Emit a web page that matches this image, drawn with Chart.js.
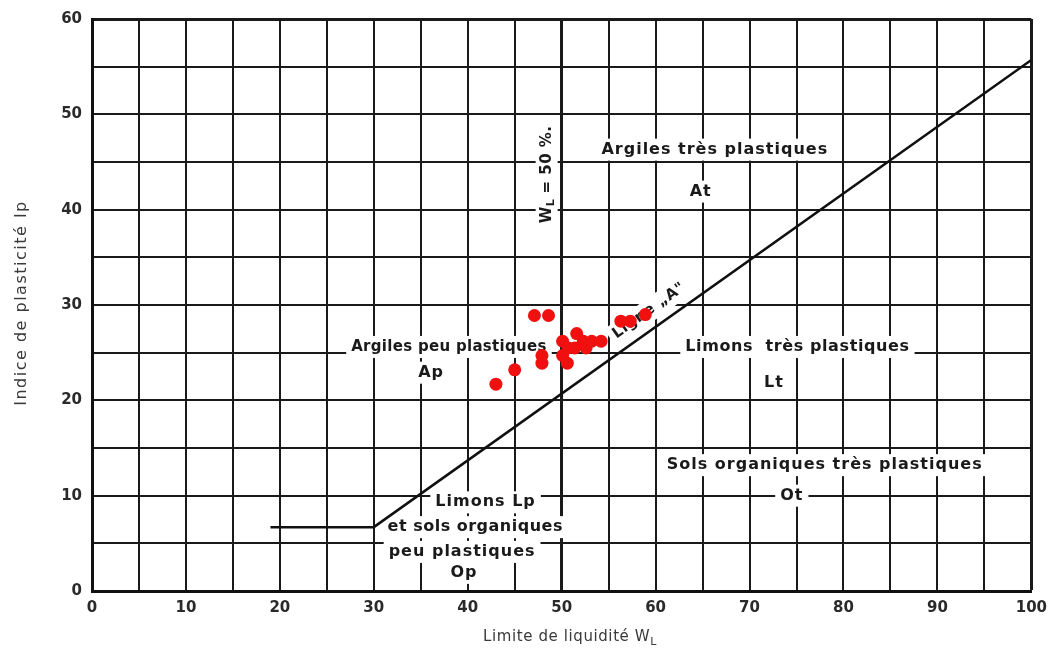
<!DOCTYPE html>
<html>
<head>
<meta charset="utf-8">
<script src="https://cdn.jsdelivr.net/npm/chart.js@4.4.1/dist/chart.umd.min.js"></script>
<style>
  html, body { margin: 0; padding: 0; background: #fff; }
</style>
</head>
<body>
<canvas id="chart" width="1055" height="657"></canvas>
<script>
// sample points (liquid limit WL, plasticity index Ip)
const wlSamples = [43.0, 45.0, 47.1, 48.6, 47.9, 47.9, 50.1, 50.1, 50.6, 51.6, 51.4, 50.7, 52.6, 52.3, 53.2, 54.2, 56.3, 57.3, 58.9];
const ipSamples = [21.7, 23.2, 28.9, 28.9, 24.7, 23.9, 26.2, 24.7, 23.9, 27.0, 25.5, 25.5, 25.5, 26.2, 26.2, 26.2, 28.3, 28.3, 29.0];

// "Ligne A" of the Casagrande chart
const aLineWL = [19, 30, 100];
const aLineIp = [6.7, 6.7, 55.7];

// axes
const xRange = [0, 100];
const yRange = [0, 60];
const gridStep = 5;
const labelStep = 10;

const samplePoints = wlSamples.map((w, i) => ({ x: w, y: ipSamples[i] }));
const aLinePoints = aLineWL.map((w, i) => ({ x: w, y: aLineIp[i] }));

// zone labels, anchored in data units
const zoneLabels = [
    { parts: ['Argiles très plastiques'], x: 66.3, y: 46.3 },
    { parts: ['At'], x: 64.8, y: 41.9 },
    { parts: ['Argiles peu plastiques'], x: 38.0, y: 25.6, size: 15, sp: 0.3 },
    { parts: ['Ap'], x: 36.1, y: 22.9 },
    { parts: ['Limons  très plastiques'], x: 75.1, y: 25.6, sp: 0.6 },
    { parts: ['Lt'], x: 72.6, y: 21.8 },
    { parts: ['Sols organiques très plastiques'], x: 78.0, y: 13.2 },
    { parts: ['Ot'], x: 74.5, y: 10.0 },
    { parts: ['Limons Lp'], x: 41.9, y: 9.3 },
    { parts: ['et sols organiques'], x: 40.8, y: 6.7, sp: 0.5 },
    { parts: ['peu plastiques'], x: 39.4, y: 4.1 },
    { parts: ['Op'], x: 39.6, y: 1.9 },
    { parts: ['W', { sub: 'L' }, ' = 50 %.'], x: 48.4, y: 43.7, rot: -Math.PI / 2, size: 15, sp: 0.5 },
    { parts: ['Ligne „A"'], x: 59.3, y: 29.4, rot: -0.62, size: 15, sp: 0.5 }
];

const FONT = '"DejaVu Sans", sans-serif';

function setFont(ctx, size, sp) {
    ctx.font = 'bold ' + size + 'px ' + FONT;
    ctx.letterSpacing = sp + 'px';
}

function partsWidth(ctx, parts, size, sp) {
    let w = 0;
    parts.forEach(p => {
        if (typeof p === 'string') { setFont(ctx, size, sp); w += ctx.measureText(p).width; }
        else { setFont(ctx, Math.round(size * 0.7), 0); w += ctx.measureText(p.sub).width; }
    });
    return w;
}

function drawParts(ctx, parts, size, sp, x0) {
    let x = x0;
    parts.forEach(p => {
        if (typeof p === 'string') {
            setFont(ctx, size, sp);
            ctx.fillText(p, x, 0);
            x += ctx.measureText(p).width;
        } else {
            setFont(ctx, Math.round(size * 0.7), 0);
            ctx.fillText(p.sub, x, size * 0.3);
            x += ctx.measureText(p.sub).width;
        }
    });
}

const zonePlugin = {
    id: 'zones',
    beforeDatasetsDraw(chart) {
        const ctx = chart.ctx;
        const xs = chart.scales.x, ys = chart.scales.y;
        ctx.save();
        ctx.textBaseline = 'middle';
        ctx.textAlign = 'left';
        zoneLabels.forEach(l => {
            const size = l.size || 16;
            const sp = l.sp !== undefined ? l.sp : 1;
            const px = xs.getPixelForValue(l.x);
            const py = ys.getPixelForValue(l.y);
            const w = partsWidth(ctx, l.parts, size, sp);
            ctx.save();
            ctx.translate(px, py);
            if (l.rot) ctx.rotate(l.rot);
            ctx.fillStyle = '#fff';
            ctx.fillRect(-w / 2 - 5, -11, w + 10, 22);
            ctx.fillStyle = '#1a1a1a';
            drawParts(ctx, l.parts, size, sp, -w / 2);
            ctx.restore();
        });
        ctx.restore();
    },
    afterDraw(chart) {
        // axis titles
        const ctx = chart.ctx;
        ctx.save();
        ctx.fillStyle = '#3a3a3a';
        ctx.textBaseline = 'middle';
        ctx.textAlign = 'center';
        ctx.font = '16px ' + FONT;
        ctx.letterSpacing = '1.5px';
        ctx.translate(22, 303);
        ctx.rotate(-Math.PI / 2);
        ctx.fillText('Indice de plasticité Ip', 0, 0);
        ctx.restore();

        ctx.save();
        ctx.fillStyle = '#3a3a3a';
        ctx.textBaseline = 'middle';
        ctx.textAlign = 'left';
        ctx.font = '15px ' + FONT;
        ctx.letterSpacing = '0.6px';
        const main = 'Limite de liquidité W';
        const mw = ctx.measureText(main).width;
        ctx.font = '11px ' + FONT;
        const sw = ctx.measureText('L').width;
        const x0 = 570 - (mw + sw) / 2;
        ctx.font = '15px ' + FONT;
        ctx.fillText(main, x0, 637);
        ctx.font = '11px ' + FONT;
        ctx.fillText('L', x0 + mw, 642);
        ctx.restore();
    }
};

const chart = new Chart(document.getElementById('chart').getContext('2d'), {
    type: 'scatter',
    data: {
        datasets: [
            {
                label: 'Ligne A',
                type: 'line',
                data: aLinePoints,
                borderColor: '#111',
                borderWidth: 2.5,
                pointRadius: 0,
                fill: false,
                order: 2
            },
            {
                label: 'Echantillons',
                data: samplePoints,
                backgroundColor: '#f01010',
                borderWidth: 0,
                pointRadius: 6.5,
                order: 1
            }
        ]
    },
    options: {
        responsive: false,
        animation: false,
        layout: { padding: { left: 0, right: 20, top: 16, bottom: 0 } },
        plugins: { legend: { display: false }, tooltip: { enabled: false } },
        scales: {
            x: {
                type: 'linear',
                min: xRange[0], max: xRange[1],
                afterFit: s => { s.height = 66; },
                border: { display: true, color: '#111', width: 3 },
                grid: {
                    color: '#1a1a1a',
                    lineWidth: c => (c.tick && (c.tick.value === 50 || c.tick.value === 100)) ? 3 : 2,
                    drawTicks: false
                },
                ticks: {
                    stepSize: gridStep,
                    padding: 8,
                    color: '#2a2a2a',
                    font: { family: FONT, size: 15, weight: 'bold' },
                    maxRotation: 0,
                    autoSkip: false,
                    callback: v => v % labelStep === 0 ? v : ''
                }
            },
            y: {
                type: 'linear',
                min: yRange[0], max: yRange[1],
                afterFit: s => { s.width = 92; },
                border: { display: true, color: '#111', width: 3 },
                grid: {
                    color: '#1a1a1a',
                    lineWidth: c => (c.tick && c.tick.value === 60) ? 3 : 2,
                    drawTicks: false
                },
                ticks: {
                    stepSize: gridStep,
                    padding: 10,
                    color: '#2a2a2a',
                    font: { family: FONT, size: 15, weight: 'bold' },
                    autoSkip: false,
                    callback: v => v % labelStep === 0 ? v : ''
                }
            }
        }
    },
    plugins: [zonePlugin]
});
</script>
</body>
</html>
